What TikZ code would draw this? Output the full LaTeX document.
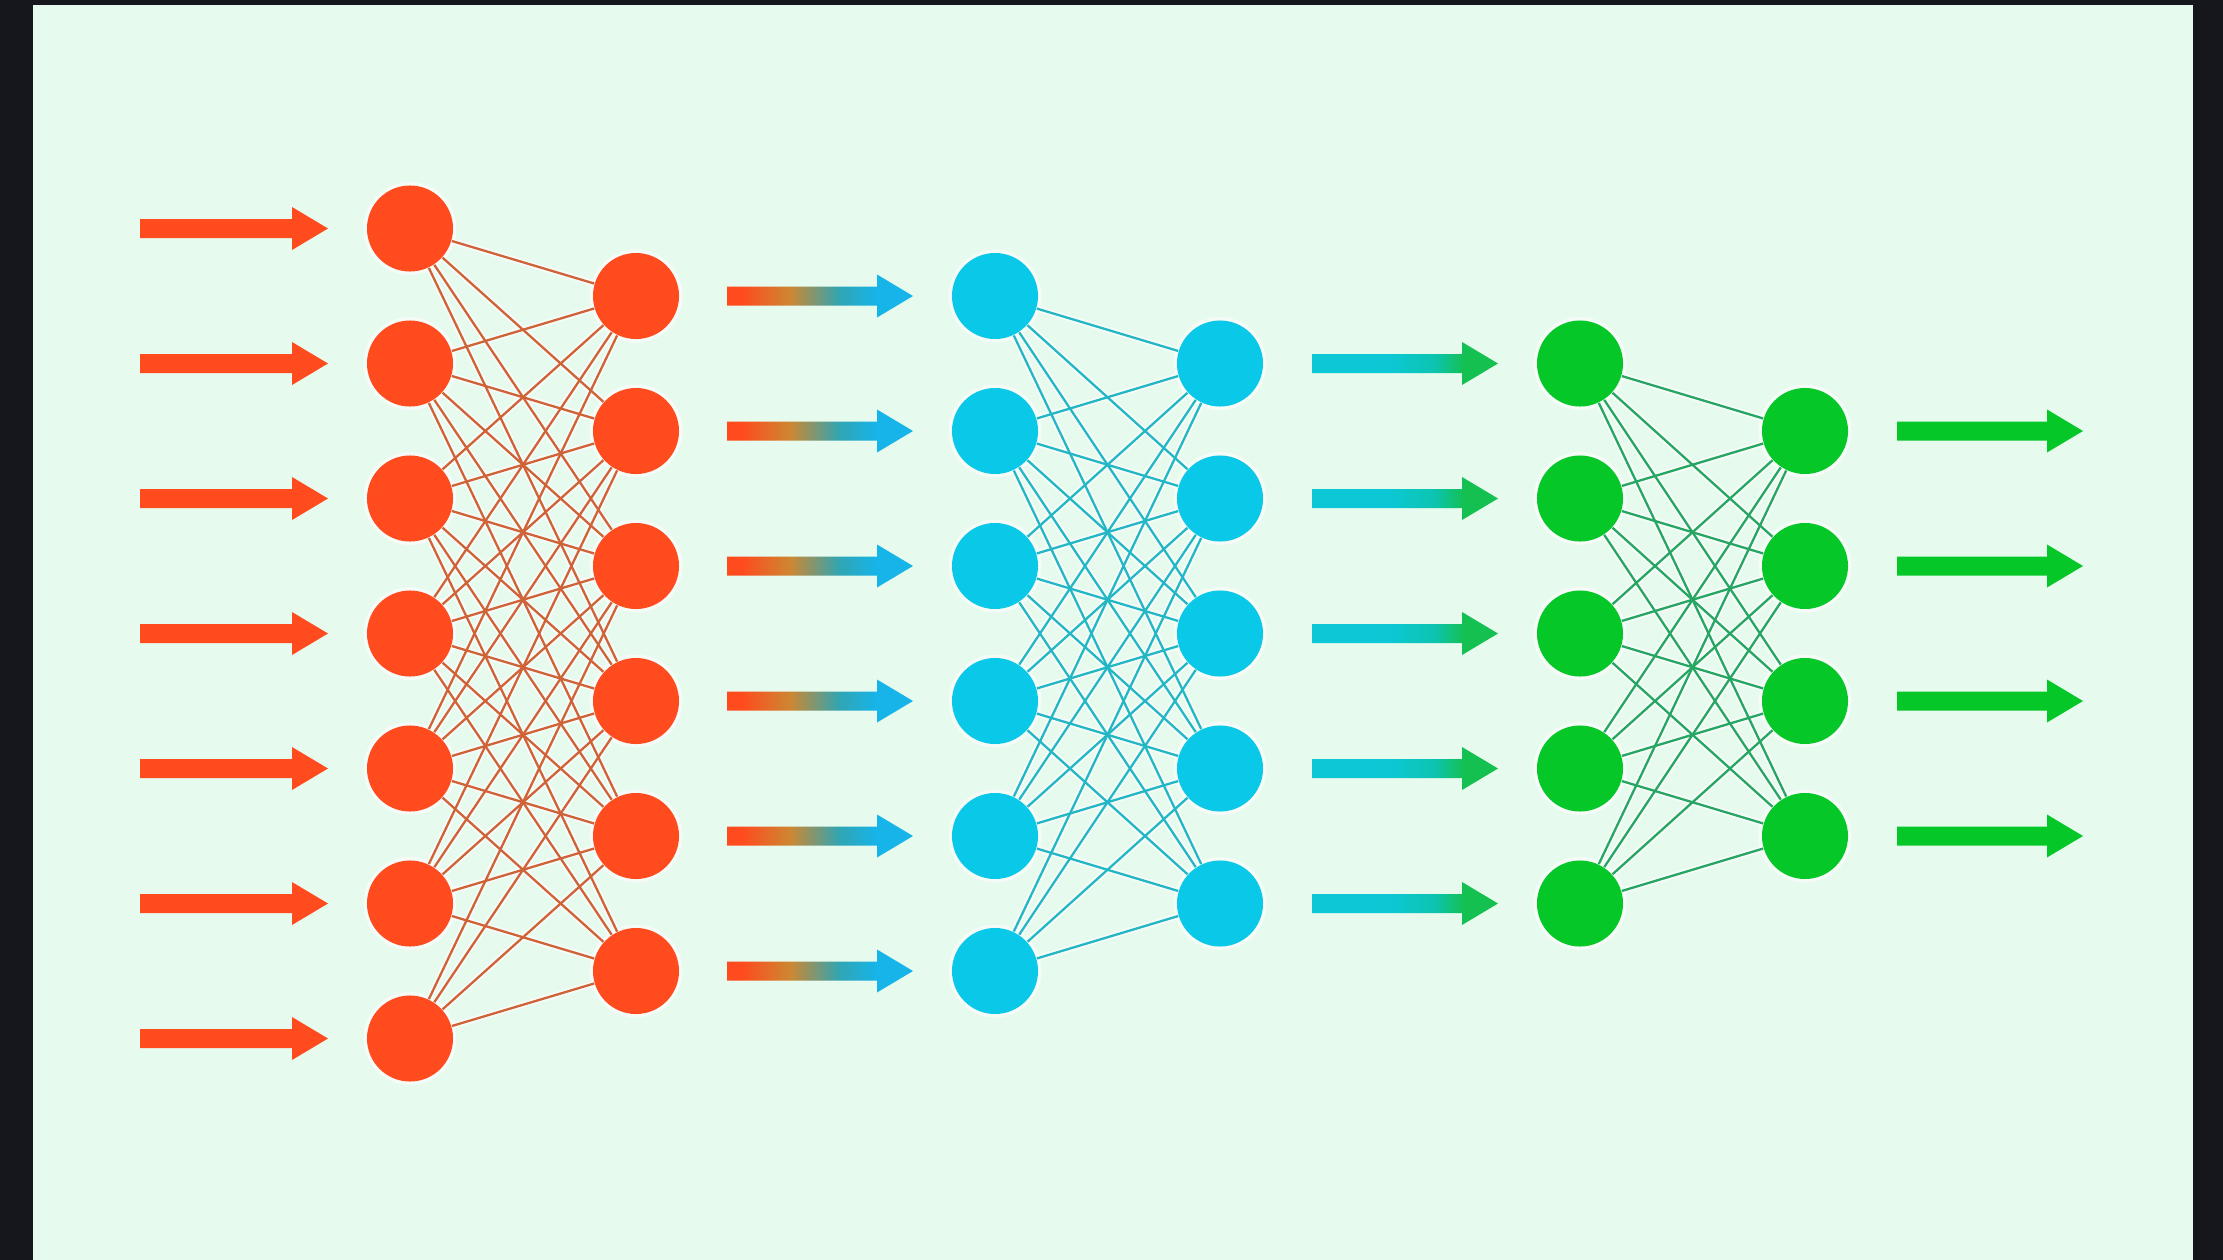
\documentclass[tikz,border=0pt]{standalone}
\definecolor{darkbg}{RGB}{21,23,28}
\definecolor{panel}{RGB}{230,250,238}
\definecolor{oC}{RGB}{255,75,30}
\definecolor{ochreC}{RGB}{205,135,50}
\definecolor{tealC}{RGB}{50,165,178}
\definecolor{blueC}{RGB}{22,180,232}
\definecolor{cC}{RGB}{10,200,232}
\definecolor{cyanbar}{RGB}{12,200,215}
\definecolor{turqC}{RGB}{12,196,175}
\definecolor{gC}{RGB}{5,200,40}
\definecolor{ghead}{RGB}{20,192,80}
\definecolor{oedgeC}{RGB}{208,98,55}
\definecolor{cedgeC}{RGB}{35,183,198}
\definecolor{gedgeC}{RGB}{38,166,98}
\definecolor{haloC}{RGB}{245,252,248}
\pgfdeclarehorizontalshading{orangeblue}{100bp}{color(0bp)=(oC); color(25bp)=(oC); color(29bp)=(oC); color(42bp)=(ochreC); color(55bp)=(tealC); color(65bp)=(blueC); color(75bp)=(blueC); color(100bp)=(blueC)}
\pgfdeclarehorizontalshading{cyangreen}{100bp}{color(0bp)=(cyanbar); color(25bp)=(cyanbar); color(45bp)=(cyanbar); color(58bp)=(turqC); color(66bp)=(ghead); color(75bp)=(ghead); color(100bp)=(ghead)}
\pgfdeclarelayer{bg}
\pgfdeclarelayer{halo}
\pgfdeclarelayer{edges}
\pgfsetlayers{bg,halo,edges,main}
\begin{document}
\begin{tikzpicture}[x=0.01cm,y=-0.01cm,
  neuron/.style={circle,inner sep=0pt,minimum size=0.86cm},
  oneuron/.style={neuron,fill=oC},
  cneuron/.style={neuron,fill=cC},
  gneuron/.style={neuron,fill=gC},
  halo/.style={draw=haloC,line width=1.8pt},
  oedge/.style={draw=oedgeC,line width=0.65pt},
  cedge/.style={draw=cedgeC,line width=0.65pt},
  gedge/.style={draw=gedgeC,line width=0.65pt}]
\useasboundingbox (0,0) rectangle (2223,1260);
\begin{pgfonlayer}{bg}
\fill[darkbg] (0,0) rectangle (2223,1260);
\fill[panel] (33,5) rectangle (2193,1260);
\end{pgfonlayer}
% neurons
\foreach \k in {1,...,7} \node[oneuron] (a\k) at (410,{228.5+135*(\k-1)}) {};
\foreach \k in {1,...,6} \node[oneuron] (b\k) at (636,{296+135*(\k-1)}) {};
\foreach \k in {1,...,6} \node[cneuron] (c\k) at (995,{296+135*(\k-1)}) {};
\foreach \k in {1,...,5} \node[cneuron] (d\k) at (1220,{363.5+135*(\k-1)}) {};
\foreach \k in {1,...,5} \node[gneuron] (e\k) at (1580,{363.5+135*(\k-1)}) {};
\foreach \k in {1,...,4} \node[gneuron] (f\k) at (1805,{431+135*(\k-1)}) {};
% soft glow round the neurons
\begin{pgfonlayer}{halo}
\foreach \k in {1,...,7} \fill[haloC] (a\k) circle (0.465cm);
\foreach \k in {1,...,6} {\fill[haloC] (b\k) circle (0.465cm); \fill[haloC] (c\k) circle (0.465cm);}
\foreach \k in {1,...,5} {\fill[haloC] (d\k) circle (0.465cm); \fill[haloC] (e\k) circle (0.465cm);}
\foreach \k in {1,...,4} \fill[haloC] (f\k) circle (0.465cm);
\end{pgfonlayer}
% connections: each node links to the nodes of the next layer within the window i-j in [-3,4]
\begin{pgfonlayer}{edges}
\foreach \i in {1,...,7} \foreach \j in {1,...,6} {
  \pgfmathtruncatemacro{\dd}{\i-\j}
  \ifnum\dd>-4 \ifnum\dd<5
    \begin{pgfonlayer}{halo}\draw[halo] (a\i) -- (b\j);\end{pgfonlayer}
    \draw[oedge] (a\i) -- (b\j);
  \fi\fi
}
\foreach \i in {1,...,6} \foreach \j in {1,...,5} {
  \pgfmathtruncatemacro{\dd}{\i-\j}
  \ifnum\dd>-4 \ifnum\dd<5
    \begin{pgfonlayer}{halo}\draw[halo] (c\i) -- (d\j);\end{pgfonlayer}
    \draw[cedge] (c\i) -- (d\j);
  \fi\fi
}
\foreach \i in {1,...,5} \foreach \j in {1,...,4} {
  \begin{pgfonlayer}{halo}\draw[halo] (e\i) -- (f\j);\end{pgfonlayer}
  \draw[gedge] (e\i) -- (f\j);
}
\end{pgfonlayer}
% block arrows
\foreach \k in {1,...,7} {
  \coordinate (in\k) at (140,{228.5+135*(\k-1)});
  \fill[oC] (in\k) ++(0,-9.5) -- ++(152,0) -- ++(0,-12) -- ++(36,21.5) -- ++(-36,21.5) -- ++(0,-12) -- ++(-152,0) -- cycle;
}
\foreach \k in {1,...,6} {
  \coordinate (ob\k) at (727,{296+135*(\k-1)});
  \shade[shading=orangeblue] (ob\k) ++(0,-9.5) -- ++(150,0) -- ++(0,-12) -- ++(36,21.5) -- ++(-36,21.5) -- ++(0,-12) -- ++(-150,0) -- cycle;
}
\foreach \k in {1,...,5} {
  \coordinate (cg\k) at (1312,{363.5+135*(\k-1)});
  \shade[shading=cyangreen] (cg\k) ++(0,-9.5) -- ++(150,0) -- ++(0,-12) -- ++(36,21.5) -- ++(-36,21.5) -- ++(0,-12) -- ++(-150,0) -- cycle;
}
\foreach \k in {1,...,4} {
  \coordinate (out\k) at (1897,{431+135*(\k-1)});
  \fill[gC] (out\k) ++(0,-9.5) -- ++(150,0) -- ++(0,-12) -- ++(36,21.5) -- ++(-36,21.5) -- ++(0,-12) -- ++(-150,0) -- cycle;
}
\end{tikzpicture}
\end{document}
